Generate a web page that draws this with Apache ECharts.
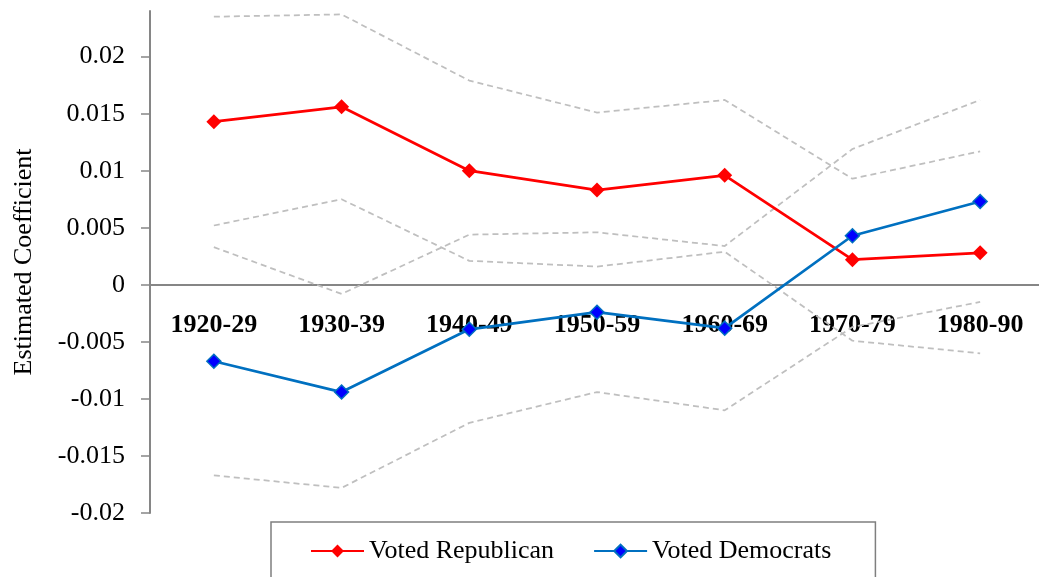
<!DOCTYPE html>
<html lang="en">
<head>
    <meta charset="UTF-8">
    <title>Estimated Coefficient</title>
    <script src="https://cdn.jsdelivr.net/npm/echarts@6/dist/echarts.min.js"></script>
</head>
<body style="margin:0">
<div id="main" style="height: 577px;width: 1039px"></div>

<script>
    // decades on the x axis
    var decades = ['1920-29', '1930-39', '1940-49', '1950-59', '1960-69', '1970-79', '1980-90'];
    var yTicks = [-0.02, -0.015, -0.01, -0.005, 0, 0.005, 0.01, 0.015, 0.02];
    var yMin = -0.02, yMax = 0.024;

    // point estimates
    var republican = [0.0143, 0.0156, 0.0100, 0.0083, 0.0096, 0.0022, 0.0028];
    var democrats = [-0.0067, -0.0094, -0.0039, -0.0024, -0.0038, 0.0043, 0.0073];

    // confidence bands (grey dashed)
    var repUpper = [0.0235, 0.0237, 0.0179, 0.0151, 0.0162, 0.0093, 0.0117];
    var repLower = [0.0052, 0.0075, 0.0021, 0.0016, 0.0029, -0.0049, -0.0060];
    var demUpper = [0.0033, -0.0008, 0.0044, 0.0046, 0.0034, 0.0119, 0.0162];
    var demLower = [-0.0167, -0.0178, -0.0121, -0.0094, -0.0110, -0.0037, -0.0015];

    var font = "'Liberation Serif', 'Times New Roman', serif";
    var gridTop = 11, gridBottom = 64, chartH = 577;

    function band(name, values) {
        return {
            name: name,
            type: 'line',
            data: values,
            showSymbol: false,
            silent: true,
            lineStyle: {color: '#BFBFBF', width: 1.75, type: [6, 4]},
            z: 1
        };
    }

    // move the category axis up to the zero line (labels follow it)
    var plotH = chartH - gridTop - gridBottom;
    var zeroOffset = -Math.round((0 - yMin) / (yMax - yMin) * plotH);

    var myChart = echarts.init(document.getElementById('main'));

    var option = {
        animation: false,
        grid: {left: 150, right: -5, top: gridTop, bottom: gridBottom, outerBoundsMode: 'none', containLabel: false},
        legend: {
            data: ['Voted Republican', 'Voted Democrats'],
            left: 271,
            top: 522,
            padding: [16, 44, 30, 39],
            itemGap: 39,
            itemWidth: 53,
            itemHeight: 16,
            borderColor: '#7F7F7F',
            borderWidth: 1.5,
            textStyle: {fontFamily: font, fontSize: 26, color: '#000'}
        },
        xAxis: {
            type: 'category',
            data: decades,
            boundaryGap: true,
            position: 'bottom',
            offset: zeroOffset,
            axisLine: {onZero: false, lineStyle: {color: '#868686', width: 2}},
            axisTick: {length: 6, lineStyle: {color: '#868686', width: 1.5}},
            axisLabel: {
                fontFamily: font, fontSize: 26, fontWeight: 'bold', color: '#000', margin: 27
            }
        },
        yAxis: {
            type: 'value',
            min: yMin,
            max: yMax,
            name: 'Estimated Coefficient',
            nameLocation: 'middle',
            nameGap: 113,
            nameTextStyle: {fontFamily: font, fontSize: 26, color: '#000'},
            splitLine: {show: false},
            axisLine: {show: true, lineStyle: {color: '#868686', width: 2}},
            axisTick: {show: true, length: 9, customValues: yTicks, lineStyle: {color: '#868686', width: 1.5}},
            axisLabel: {
                customValues: yTicks,
                fontFamily: font, fontSize: 26, color: '#000', margin: 25,
                formatter: function (v) { return String(+v.toFixed(3)); }
            }
        },
        series: [
            band('repUpper', repUpper),
            band('repLower', repLower),
            band('demUpper', demUpper),
            band('demLower', demLower),
            {
                name: 'Voted Republican',
                type: 'line',
                data: republican,
                symbol: 'diamond',
                symbolSize: 15,
                itemStyle: {color: '#FF0000'},
                lineStyle: {color: '#FF0000', width: 2.75},
                z: 3
            },
            {
                name: 'Voted Democrats',
                type: 'line',
                data: democrats,
                symbol: 'diamond',
                symbolSize: 14,
                itemStyle: {color: '#0000FF', borderColor: '#0070C0', borderWidth: 1.5},
                lineStyle: {color: '#0070C0', width: 2.75},
                z: 4
            }
        ]
    };

    myChart.setOption(option);
</script>
</body>
</html>
